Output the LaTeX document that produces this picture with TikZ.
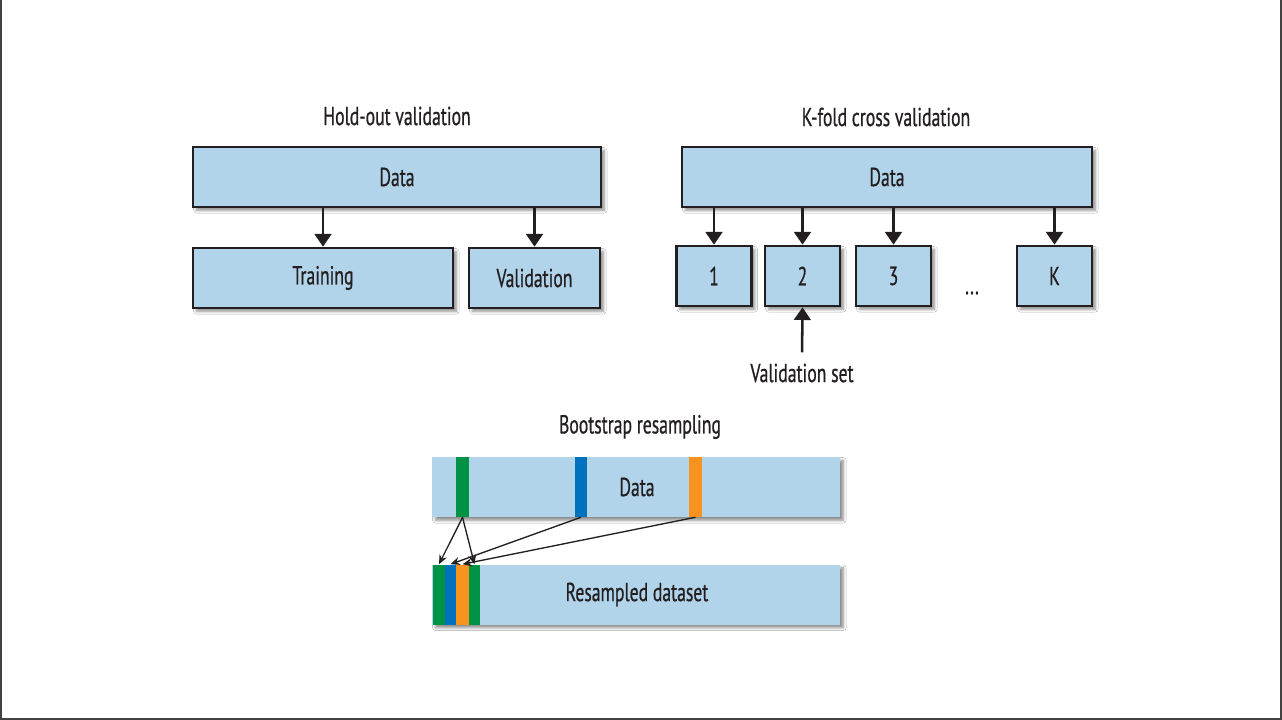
\documentclass[tikz,border=0pt]{standalone}
\usepackage{fontspec}
\setmainfont[FakeStretch=0.68,FakeBold=0.6]{PT Sans}
\usetikzlibrary{arrows.meta,shadows.blur}
\definecolor{boxblue}{HTML}{B2D4EA}
\definecolor{sgreen}{HTML}{009245}
\definecolor{sblue}{HTML}{0071BC}
\definecolor{sorange}{HTML}{F7931E}
\definecolor{ink}{HTML}{231F20}
\tikzset{
  every node/.style={text=ink, font=\fontsize{19.5}{22}\selectfont},
  shade/.style={blur shadow={shadow xshift=2.5pt, shadow yshift=-2.5pt, shadow blur steps=6, shadow opacity=45}},
  box/.style={draw=ink, line width=2pt, fill=boxblue, shade, inner sep=0pt},
  bar/.style={fill=boxblue, shade, inner sep=0pt, minimum width=306pt, minimum height=45pt},
  stripe/.style={inner sep=0pt, minimum height=45pt},
  bigarrow/.style={draw=ink, line width=1.9pt, -{Triangle[length=9.5pt,width=12.5pt]}},
  thinarrow/.style={draw=ink, line width=1pt, -{Stealth[length=7pt,width=6pt]}},
  title/.style={font=\fontsize{19.5}{22}\selectfont}
}
\begin{document}
\begin{tikzpicture}[x=0.75pt,y=-0.75pt]
\useasboundingbox (0,0) rectangle (1282,720);
\fill[white] (0,0) rectangle (1282,720);
\draw[line width=1.5pt, color=ink!85] (1,0) -- (1,719) -- (1281,719) -- (1281,0);

% Hold-out validation
\node[title] (t1) at (397,116) {Hold-out validation};
\node[box, minimum width=306pt, minimum height=45pt] (hd) at (397,177) {Data};
\node[box, minimum width=195pt, minimum height=45pt] (tr) at (323,278) {Training};
\node[box, minimum width=98.25pt, minimum height=45pt] (va) at (534.5,278) {Validation};
\draw[bigarrow] (hd.south -| tr.north) -- (tr.north);
\draw[bigarrow] (hd.south -| va.north) -- (va.north);

% K-fold cross validation
\node[title] (t2) at (886,117) {K-fold cross validation};
\node[box, minimum width=307.5pt, minimum height=45pt] (kd) at (887,177) {Data};
\node[box, minimum width=56.25pt, minimum height=45pt] (k1) at (714,276) {1};
\node[box, minimum width=56.25pt, minimum height=45pt] (k2) at (802.5,276) {2};
\node[box, minimum width=56.25pt, minimum height=45pt] (k3) at (893.5,276) {3};
\node[box, minimum width=56.25pt, minimum height=45pt] (kk) at (1054.5,276) {K};
\node (dots) at (972,293) {...};
\foreach \n in {k1,k2,k3,kk} {\draw[bigarrow] (kd.south -| \n.north) -- (\n.north);}
\node (vs) at (802,373) {Validation set};
\draw[bigarrow, shorten <=5pt] (vs.north) -- (k2.south);

% Bootstrap resampling
\node[title] (t3) at (640,427) {Bootstrap resampling};
\node[bar] (bd) at (636,487) {};
\node[stripe, fill=sgreen, minimum width=9.75pt] (sg) at (462.5,487) {};
\node[stripe, fill=sblue, minimum width=9pt] (sb) at (581,487) {};
\node[stripe, fill=sorange, minimum width=9.75pt] (so) at (695.5,487) {};
\node (bdt) at (637,487) {Data};

\node[bar] (rd) at (636,594.5) {};
\node[stripe, fill=sgreen, minimum width=9pt] (r1) at (439,594.5) {};
\node[stripe, fill=sblue, minimum width=8.25pt] (r2) at (450.5,594.5) {};
\node[stripe, fill=sorange, minimum width=9.75pt] (r3) at (462.5,594.5) {};
\node[stripe, fill=sgreen, minimum width=8.25pt] (r4) at (474.5,594.5) {};
\node (rdt) at (637,594.5) {Resampled dataset};

\draw[thinarrow] (sg.south) -- (r1.north);
\draw[thinarrow] (sg.south) -- (r4.north);
\draw[thinarrow] (sb.south) -- (r2.north);
\draw[thinarrow] (so.south) -- (r3.north);
\end{tikzpicture}
\end{document}
